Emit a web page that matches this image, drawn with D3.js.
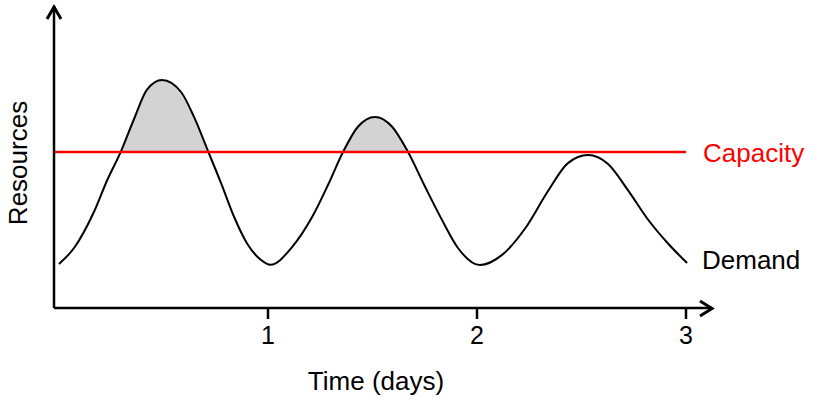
<!DOCTYPE html>
<html>
<head>
<meta charset="utf-8">
<script src="https://cdn.jsdelivr.net/npm/d3@7"></script>
<style>
  html, body { margin: 0; padding: 0; background: #fff; }
  svg { display: block; }
  text { font-family: "Liberation Sans", Arial, Helvetica, sans-serif; }
</style>
</head>
<body>
<svg id="chart" width="818" height="404"></svg>
<script>
// ---- data ----
const xTicks = [1, 2, 3];
const tickLabels = ["1", "2", "3"];
const capacity = 52;
const demandDays = [0.000, 0.072, 0.167, 0.230, 0.297, 0.359, 0.421, 0.493, 0.584, 0.646, 0.713, 0.775, 0.837, 0.900, 0.967, 1.012,
                    1.115, 1.211, 1.287, 1.359, 1.431, 1.512, 1.593, 1.670, 1.751, 1.833, 1.909, 2.014,
                    2.120, 2.230, 2.340, 2.435, 2.531, 2.627, 2.722, 2.818, 2.914, 3.005];
const demandValues = [14.7, 20.0, 32.0, 42.5, 52.3, 63.0, 72.8, 76.0, 72.0, 63.7, 52.3, 41.7, 30.5, 21.5, 16.0, 14.4,
                      20.3, 30.3, 41.0, 52.0, 60.5, 63.7, 60.5, 52.0, 40.5, 29.3, 20.0, 14.3,
                      17.7, 26.5, 39.0, 48.3, 51.0, 48.0, 39.3, 29.5, 21.5, 15.0];
const xLabel = "Time (days)";
const yLabel = "Resources";
const capacityLabel = "Capacity";
const demandLabel = "Demand";

// ---- layout ----
const svg = d3.select("#chart");
const x = d3.scaleLinear().domain([0, 3]).range([59, 686]);
const y = d3.scaleLinear().domain([0, 100]).range([308, 8]);
const axisX = 54, axisY = 308;

const demand = demandDays.map((d, i) => ({ x: d, y: demandValues[i] }));

// clip for shaded region (above capacity)
svg.append("clipPath").attr("id", "above")
  .append("rect")
  .attr("x", 0).attr("y", 0)
  .attr("width", 818).attr("height", y(capacity));

const curve = d3.curveMonotoneX;

svg.append("path")
  .datum(demand)
  .attr("clip-path", "url(#above)")
  .attr("fill", "#d3d3d3")
  .attr("d", d3.area().curve(curve).x(d => x(d.x)).y0(y(capacity)).y1(d => y(d.y)));

// demand line
svg.append("path")
  .datum(demand)
  .attr("fill", "none")
  .attr("stroke", "#000")
  .attr("stroke-width", 2)
  .attr("d", d3.line().curve(curve).x(d => x(d.x)).y(d => y(d.y)));

// capacity line
svg.append("line")
  .attr("x1", axisX).attr("x2", x(3))
  .attr("y1", y(capacity)).attr("y2", y(capacity))
  .attr("stroke", "#ff0000").attr("stroke-width", 2.5);

// axes
svg.append("line").attr("x1", axisX).attr("x2", 712).attr("y1", axisY).attr("y2", axisY)
  .attr("stroke", "#000").attr("stroke-width", 2.5);
svg.append("line").attr("x1", axisX).attr("x2", axisX).attr("y1", axisY).attr("y2", 6)
  .attr("stroke", "#000").attr("stroke-width", 2.5);
// arrowheads
svg.append("path").attr("d", "M700,301 L712,308.5 L700,316")
  .attr("fill", "none").attr("stroke", "#000").attr("stroke-width", 3).attr("stroke-linejoin", "miter");
svg.append("path").attr("d", "M47,19 L54,7 L61,19")
  .attr("fill", "none").attr("stroke", "#000").attr("stroke-width", 3).attr("stroke-linejoin", "miter");

// ticks
const g = svg.append("g");
g.selectAll("line.tick").data(xTicks).join("line")
  .attr("x1", d => x(d)).attr("x2", d => x(d))
  .attr("y1", axisY).attr("y2", axisY + 11)
  .attr("stroke", "#000").attr("stroke-width", 2.5);
g.selectAll("text.tick").data(xTicks).join("text")
  .attr("x", d => x(d)).attr("y", 344)
  .attr("text-anchor", "middle")
  .attr("font-size", 25)
  .text((d, i) => tickLabels[i]);

// labels
svg.append("text").attr("x", 376).attr("y", 390).attr("text-anchor", "middle")
  .attr("font-size", 26).text(xLabel);
svg.append("text").attr("transform", "translate(27,163) rotate(-90)").attr("text-anchor", "middle")
  .attr("font-size", 26).text(yLabel);
svg.append("text").attr("x", 703).attr("y", 162).attr("font-size", 26)
  .attr("fill", "#ff0000").text(capacityLabel);
svg.append("text").attr("x", 702).attr("y", 269).attr("font-size", 26)
  .attr("fill", "#000").text(demandLabel);
</script>
</body>
</html>
